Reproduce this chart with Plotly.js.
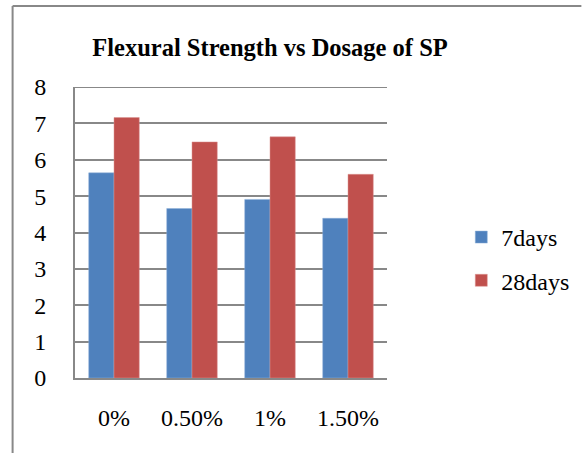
<!DOCTYPE html>
<html>
<head>
<meta charset="utf-8">
<script src="https://cdn.plot.ly/plotly-3.0.1.min.js"></script>
<style>html,body{margin:0;padding:0;background:#fff;overflow:hidden;}#chart{width:586px;height:453px;}</style>
</head>
<body>
<div id="chart"></div>
<script>
const categories = ["0%", "0.50%", "1%", "1.50%"];
const days7 = [5.64, 4.66, 4.91, 4.39];
const days28 = [7.16, 6.49, 6.63, 5.60];
const seriesNames = ["7days", "28days"];
const yTicks = [0, 1, 2, 3, 4, 5, 6, 7, 8];

const serif = "Liberation Serif";

const traces = [
  {type: "bar", name: seriesNames[0], x: categories, y: days7, legendgroup: "a",
   marker: {color: "#4F81BD", line: {color: "#8fb0d8", width: 0.5}}},
  {type: "bar", name: seriesNames[1], x: categories, y: days28, legendgroup: "b",
   marker: {color: "#C0504D", line: {color: "#dc9492", width: 0.5}}}
];

const layout = {
  width: 586, height: 453,
  margin: {l: 75, r: 196, t: 87, b: 75},
  paper_bgcolor: "#ffffff", plot_bgcolor: "#ffffff",
  font: {family: serif, color: "#000", size: 24},
  title: {text: "<b>Flexural Strength vs Dosage of SP</b>", font: {family: serif, size: 24.5, color: "#000"},
          x: 270/586, xanchor: "center", xref: "container", y: 1 - 47/453, yanchor: "middle", yref: "container"},
  barmode: "group", bargap: 0.352, bargroupgap: 0,
  xaxis: {type: "category", showgrid: false, showline: true, linecolor: "#888", linewidth: 2,
          ticks: "", ticklabelstandoff: 17, tickfont: {size: 24, family: serif, color: "#000"}},
  yaxis: {range: [0, 8], tickvals: yTicks, showgrid: true, gridcolor: "#888", gridwidth: 2,
          showline: true, linecolor: "#888", linewidth: 2, zeroline: false, ticks: "",
          ticklabelstandoff: 22, tickfont: {size: 24, family: serif, color: "#000"}, mirror: false},
  showlegend: true,
  legend: {x: (465 - 75) / 315, xanchor: "left", y: 1 - (259 - 87) / 291, yanchor: "middle",
           font: {size: 24, family: serif, color: "#000"}, tracegroupgap: 9, bgcolor: "rgba(0,0,0,0)"},
  shapes: [
    {type: "line", xref: "paper", yref: "y", x0: 0, x1: 1, y0: 8, y1: 8,
     line: {color: "#888", width: 2}, layer: "below"},
    {type: "line", xref: "paper", yref: "paper", x0: -0.2, x1: -0.2, y0: -0.3, y1: 1.2784,
     line: {color: "#888", width: 2}},
    {type: "line", xref: "paper", yref: "paper", x0: -0.2, x1: 1.623, y0: 1.2784, y1: 1.2784,
     line: {color: "#888", width: 2}}
  ]
};

Plotly.newPlot("chart", traces, layout, {displayModeBar: false, staticPlot: true});
</script>
</body>
</html>
